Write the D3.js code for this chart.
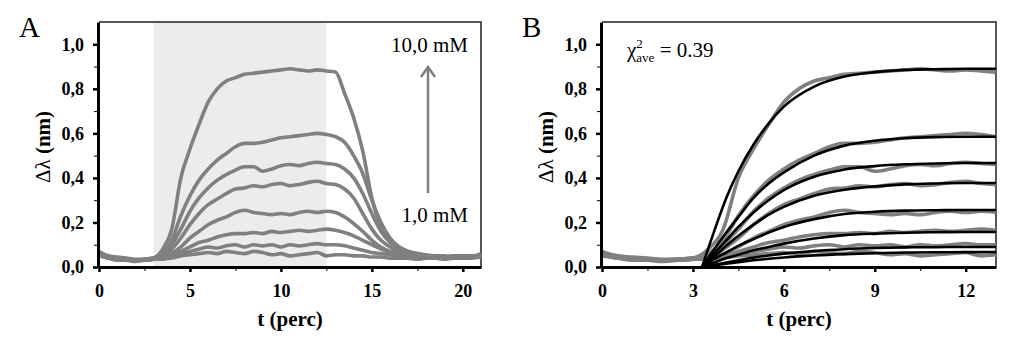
<!DOCTYPE html>
<html>
<head>
<meta charset="utf-8">
<script src="https://cdn.jsdelivr.net/npm/d3@7"></script>
<style>
  body { margin: 0; background: #fff; }
  svg { display: block; }
  svg text { font-family: "Liberation Serif", Tinos, "Times New Roman", "DejaVu Serif", serif; }
</style>
</head>
<body>
<svg id="chart" width="1024" height="351"></svg>
<script>
// time points of the measured traces (perc)
const times = [0,0.5,1,1.5,2,2.5,3,3.5,4,4.5,5,5.5,6,6.5,7,7.5,8,8.5,9,9.5,10,10.5,
  11,11.5,12,12.5,13,13.5,14,14.5,15,15.5,16,16.5,17,17.5,18,18.5,19,19.5,20,20.5,21];

// measured shifts (nm), 10,0 mM down to 1,0 mM
const trace10 = [0.07,0.05,0.045,0.04,0.035,0.035,0.04, 0.08,0.17,0.40,0.53,0.64,0.74,0.80,0.835,0.85,0.865,0.87,0.875,0.88,0.885,0.89,0.885,0.88,0.885,0.88,0.875, 0.78,0.67,0.52,0.31,0.18,0.12,0.09,0.07,0.06,0.05,0.05,0.045,0.05,0.05,0.045,0.06];
const trace8 = [0.065,0.05,0.04,0.035,0.03,0.035,0.04, 0.06,0.12,0.23,0.32,0.39,0.44,0.48,0.51,0.54,0.555,0.555,0.56,0.57,0.58,0.585,0.59,0.595,0.60,0.595,0.585, 0.56,0.50,0.42,0.30,0.20,0.13,0.09,0.07,0.06,0.055,0.05,0.05,0.045,0.05,0.05,0.055];
const trace6 = [0.06,0.045,0.04,0.035,0.03,0.03,0.04, 0.05,0.10,0.17,0.25,0.31,0.355,0.39,0.415,0.435,0.45,0.45,0.43,0.44,0.455,0.46,0.455,0.465,0.47,0.465,0.46, 0.44,0.40,0.33,0.24,0.16,0.11,0.08,0.065,0.055,0.05,0.05,0.045,0.05,0.045,0.05,0.05];
const trace5 = [0.06,0.045,0.035,0.03,0.03,0.035,0.04, 0.045,0.08,0.13,0.19,0.24,0.28,0.305,0.33,0.35,0.355,0.365,0.36,0.37,0.375,0.365,0.37,0.38,0.385,0.375,0.37, 0.35,0.31,0.24,0.17,0.12,0.09,0.07,0.06,0.05,0.045,0.05,0.045,0.04,0.05,0.045,0.05];
const trace4 = [0.055,0.045,0.04,0.035,0.03,0.03,0.035, 0.04,0.06,0.09,0.13,0.16,0.19,0.21,0.225,0.245,0.255,0.245,0.24,0.235,0.24,0.235,0.245,0.25,0.245,0.25,0.245, 0.225,0.195,0.16,0.12,0.09,0.07,0.06,0.05,0.045,0.04,0.045,0.04,0.045,0.04,0.045,0.05];
const trace3 = [0.06,0.04,0.035,0.03,0.03,0.035,0.035, 0.035,0.05,0.07,0.09,0.11,0.12,0.135,0.145,0.15,0.15,0.155,0.15,0.16,0.155,0.16,0.165,0.16,0.165,0.17,0.165, 0.155,0.14,0.12,0.10,0.08,0.065,0.055,0.05,0.045,0.04,0.04,0.045,0.04,0.04,0.045,0.05];
const trace2 = [0.055,0.04,0.035,0.03,0.03,0.03,0.035, 0.04,0.05,0.06,0.07,0.08,0.09,0.085,0.095,0.10,0.09,0.10,0.095,0.10,0.09,0.10,0.095,0.10,0.105,0.10,0.10, 0.095,0.085,0.075,0.065,0.06,0.055,0.05,0.045,0.04,0.04,0.045,0.04,0.04,0.04,0.045,0.045];
const trace1 = [0.05,0.04,0.03,0.03,0.025,0.03,0.035, 0.035,0.04,0.05,0.055,0.06,0.065,0.06,0.07,0.065,0.06,0.07,0.065,0.055,0.06,0.05,0.055,0.06,0.065,0.05,0.055, 0.055,0.05,0.05,0.045,0.045,0.04,0.04,0.04,0.035,0.04,0.04,0.035,0.04,0.04,0.04,0.045];
const traces = [trace10, trace8, trace6, trace5, trace4, trace3, trace2, trace1];

// fitted association curves (panel B)
const fitTimes = [3.3,3.7,4.1,4.5,5,5.5,6,7,8,9,10,11,12,13];
const fit10 = [0,0.16,0.31,0.43,0.55,0.645,0.72,0.81,0.855,0.875,0.885,0.888,0.89,0.89];
const fit8 = [0,0.08,0.155,0.225,0.31,0.375,0.425,0.50,0.545,0.567,0.578,0.583,0.585,0.585];
const fit6 = [0,0.06,0.12,0.18,0.245,0.30,0.345,0.405,0.438,0.453,0.461,0.465,0.467,0.467];
const fit5 = [0,0.045,0.095,0.14,0.19,0.235,0.27,0.32,0.347,0.362,0.371,0.375,0.377,0.377];
const fit4 = [0,0.035,0.065,0.095,0.125,0.155,0.18,0.215,0.238,0.248,0.253,0.255,0.256,0.256];
const fit3 = [0,0.02,0.04,0.055,0.075,0.09,0.105,0.128,0.143,0.15,0.154,0.156,0.157,0.157];
const fit2 = [0,0.01,0.02,0.03,0.042,0.052,0.06,0.072,0.08,0.085,0.088,0.089,0.09,0.09];
const fit1 = [0,0.008,0.015,0.022,0.03,0.037,0.043,0.052,0.058,0.062,0.065,0.066,0.067,0.067];
const fits = [fit10, fit8, fit6, fit5, fit4, fit3, fit2, fit1];

// axes
const yTicks = [0, 0.2, 0.4, 0.6, 0.8, 1.0];
const yMinor = [0.1, 0.3, 0.5, 0.7, 0.9];
const xTicksA = [0, 5, 10, 15, 20];
const xMinorA = [2.5, 7.5, 12.5, 17.5];
const xTicksB = [0, 3, 6, 9, 12];
const xMinorB = [1.5, 4.5, 7.5, 10.5];
const injection = [3, 12.5];   // shaded interval in A

const svg = d3.select("#chart");
const grey = "#808080";
const commaFmt = d => d3.format(".1f")(d).replace(".", ",");

function panel(opt) {
  const x = d3.scaleLinear().domain(opt.xDomain).range([opt.left, opt.right]);
  const y = d3.scaleLinear().domain([0, 1.1]).range([267, 22]);
  const g = svg.append("g");

  if (opt.shade) {
    g.append("rect")
      .attr("x", x(opt.shade[0])).attr("y", y(1.1))
      .attr("width", x(opt.shade[1]) - x(opt.shade[0]))
      .attr("height", y(0) - y(1.1))
      .attr("fill", "#ececec");
  }

  // frame top/right
  g.append("path")
    .attr("d", `M${x.range()[0]},${y(1.1)}H${x(opt.xDomain[1])}V${y(0)}`)
    .attr("fill", "none").attr("stroke", "#222").attr("stroke-width", 1.5);

  const line = d3.line().curve(d3.curveMonotoneX).x(d => x(d[0])).y(d => y(d[1]));
  traces.forEach(tr => {
    const pts = times.map((t, i) => [t, tr[i]]).filter(d => d[0] <= opt.xDomain[1]);
    g.append("path").datum(pts)
      .attr("d", line)
      .attr("fill", "none").attr("stroke", grey)
      .attr("stroke-width", 3.6).attr("stroke-linejoin", "round");
  });

  if (opt.fits) {
    fits.forEach(f => {
      g.append("path").datum(fitTimes.map((t, i) => [t, f[i]]))
        .attr("d", line)
        .attr("fill", "none").attr("stroke", "#000").attr("stroke-width", 2.6);
    });
  }

  // minor ticks
  g.append("g").attr("transform", `translate(0,${y(0)})`)
    .call(d3.axisBottom(x).tickValues(opt.xMinor).tickSize(4).tickFormat(""))
    .call(a => a.select(".domain").remove());
  g.append("g").attr("transform", `translate(${opt.left - 1},0)`)
    .call(d3.axisLeft(y).tickValues(yMinor).tickSize(4).tickFormat(""))
    .call(a => a.select(".domain").remove());

  const xa = g.append("g").attr("transform", `translate(0,${y(0)})`)
    .call(d3.axisBottom(x).tickValues(opt.xTicks).tickSize(5).tickSizeOuter(0).tickPadding(12));
  const ya = g.append("g").attr("transform", `translate(${opt.left - 1},0)`)
    .call(d3.axisLeft(y).tickValues(yTicks).tickSize(5).tickSizeOuter(0).tickPadding(9).tickFormat(commaFmt));
  [xa, ya].forEach(a => {
    a.attr("font-family", null);
    a.select(".domain").attr("stroke-width", 3);
    a.selectAll(".tick line").attr("stroke-width", 2.5);
    a.selectAll("text").attr("font-weight", "bold").attr("font-size", 18).attr("fill", "#000");
  });
  svg.selectAll(".tick line").attr("stroke", "#000");

  // axis titles
  g.append("text")
    .attr("x", (x.range()[0] + x(opt.xDomain[1])) / 2).attr("y", 326)
    .attr("text-anchor", "middle").attr("font-weight", "bold").attr("font-size", 21)
    .text("t (perc)");
  const yl = g.append("text")
    .attr("transform", `translate(${opt.left - 49},147) rotate(-90)`)
    .attr("text-anchor", "middle").attr("font-size", 21);
  yl.append("tspan").text("Δλ ");
  yl.append("tspan").attr("font-weight", "bold").text("(nm)");

  g.append("text").attr("x", opt.left - 80).attr("y", 37).attr("font-size", 29).text(opt.letter);
  return { g, x, y };
}

const A = panel({ xDomain: [0, 21], left: 99, right: 481, xTicks: xTicksA, xMinor: xMinorA,
  shade: injection, letter: "A" });
const B = panel({ xDomain: [0, 13], left: 602, right: 996, xTicks: xTicksB, xMinor: xMinorB,
  fits: true, letter: "B" });

// concentration annotation in A
A.g.append("text").attr("x", 468).attr("y", 52).attr("text-anchor", "end")
  .attr("font-size", 21).text("10,0 mM");
A.g.append("text").attr("x", 468).attr("y", 222).attr("text-anchor", "end")
  .attr("font-size", 21).text("1,0 mM");
A.g.append("line").attr("x1", 428).attr("x2", 428).attr("y1", 193).attr("y2", 68)
  .attr("stroke", grey).attr("stroke-width", 2.5);
A.g.append("path").attr("d", "M421,77L428,67L435,77")
  .attr("fill", "none").attr("stroke", grey).attr("stroke-width", 2.5);

// chi-square in B
const chi = B.g.append("text").attr("x", 627).attr("y", 57).attr("font-size", 21);
chi.append("tspan").text("χ");
chi.append("tspan").attr("font-size", 13).attr("dy", -9).text("2");
chi.append("tspan").attr("font-size", 13).attr("dx", -6.5).attr("dy", 14).text("ave");
chi.append("tspan").attr("dy", -5).text(" = 0.39");
</script>
</body>
</html>
